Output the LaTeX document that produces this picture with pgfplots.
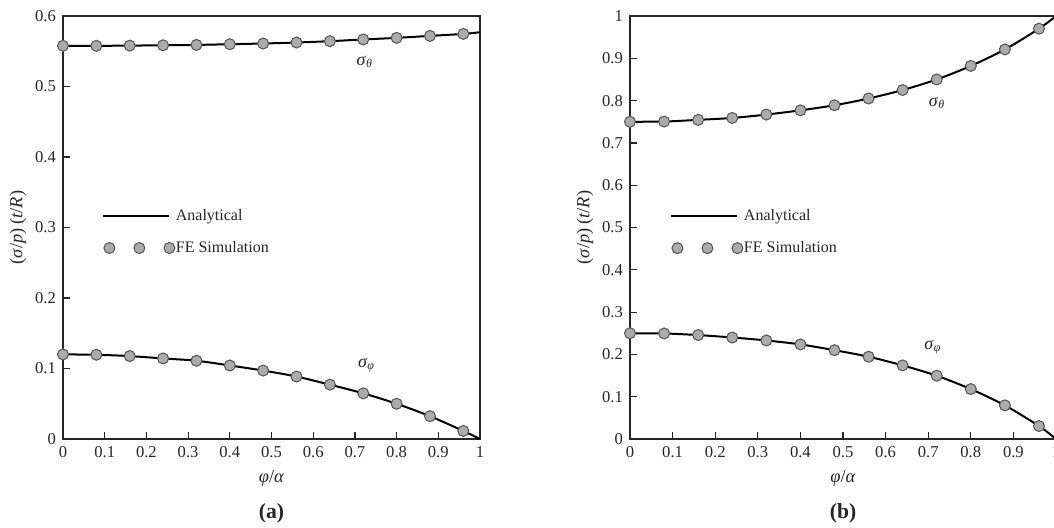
\documentclass[border=0pt]{standalone}
\usepackage{fontspec}
\setmainfont{Liberation Serif}
\usepackage{pgfplots}
\pgfplotsset{compat=1.18}
\definecolor{fegray}{gray}{0.67}
\definecolor{feedge}{gray}{0.33}
\definecolor{txt}{gray}{0.15}

\pgfplotstableread{
x     sth    sph
0     0.5577 0.1200
0.08  0.5577 0.1195
0.16  0.5580 0.1176
0.24  0.5585 0.1143
0.32  0.5590 0.1110
0.40  0.5600 0.1043
0.48  0.5610 0.0971
0.56  0.5624 0.0886
0.64  0.5643 0.0771
0.72  0.5667 0.0648
0.80  0.5690 0.0500
0.88  0.5718 0.0324
0.96  0.5746 0.0114
}\feA
\pgfplotstableread{
x     sth    sph
0     0.5577 0.1200
0.08  0.5577 0.1195
0.16  0.5580 0.1176
0.24  0.5585 0.1143
0.32  0.5590 0.1110
0.40  0.5600 0.1043
0.48  0.5610 0.0971
0.56  0.5624 0.0886
0.64  0.5643 0.0771
0.72  0.5667 0.0648
0.80  0.5690 0.0500
0.88  0.5718 0.0324
0.96  0.5746 0.0114
1.00  0.5770 0.0000
}\anA
\pgfplotstableread{
x     sth    sph
0     0.7500 0.2500
0.08  0.7505 0.2495
0.16  0.7545 0.2457
0.24  0.7590 0.2400
0.32  0.7670 0.2330
0.40  0.7770 0.2236
0.48  0.7890 0.2100
0.56  0.8050 0.1945
0.64  0.8250 0.1740
0.72  0.8500 0.1496
0.80  0.8820 0.1180
0.88  0.9210 0.0795
0.96  0.9700 0.0307
}\feB
\pgfplotstableread{
x     sth    sph
0     0.7500 0.2500
0.08  0.7505 0.2495
0.16  0.7545 0.2457
0.24  0.7590 0.2400
0.32  0.7670 0.2330
0.40  0.7770 0.2236
0.48  0.7890 0.2100
0.56  0.8050 0.1945
0.64  0.8250 0.1740
0.72  0.8500 0.1496
0.80  0.8820 0.1180
0.88  0.9210 0.0795
0.96  0.9700 0.0307
1.00  1.0000 0.0000
}\anB

\pgfplotsset{
  panel/.style={
    scale only axis,
    clip mode=individual,
    height=211.5pt,
    xmin=0, xmax=1,
    ymin=0,
    xtick={0,0.1,0.2,0.3,0.4,0.5,0.6,0.7,0.8,0.9,1},
    tick align=inside,
    xtick pos=bottom, ytick pos=left,
    major tick length=3.5pt,
    axis line style={line width=0.8pt, color=txt},
    tick style={line width=0.6pt, color=txt},
    /pgf/number format/assume math mode=true,
    tick label style={font=\fontsize{8.3}{9}\selectfont, color=txt},
    xlabel={\textit{φ}/\textit{α}},
    ylabel={(\textit{σ}/\textit{p})\,(\textit{t}/\textit{R})},
    label style={font=\fontsize{9.2}{11}\selectfont, color=txt},
    xlabel style={at={(axis description cs:0.5,0)}, anchor=center, yshift=-19.5pt},
    legend cell align=left,
    legend style={draw=none, fill=none, inner sep=0pt, anchor=west,
      font=\fontsize{8}{10}\selectfont, text=txt,
      column sep=0.5pt, row sep=8pt,
      nodes={inner sep=0pt, text height=6pt, text depth=2pt}},
  },
  anal/.style={line width=1pt, black, smooth, tension=0.5,
    legend image code/.code={\draw[line width=1pt] (0pt,0pt) -- (33pt,0pt);}},
  fe/.style={only marks, mark=*, mark size=2.75pt,
    mark options={fill=fegray, draw=feedge, line width=0.5pt},
    legend image code/.code={\draw plot[only marks, mark=*] coordinates {(3pt,0pt) (18pt,0pt) (33pt,0pt)};}},
}

\begin{document}
\begin{tikzpicture}
\useasboundingbox (0pt,0pt) rectangle (527pt,263.5pt);
% ---------- (a) ----------
\begin{axis}[panel,
  at={(31.5pt,44pt)}, anchor=south west,
  width=208.5pt,
  ymax=0.6,
  ytick={0,0.1,0.2,0.3,0.4,0.5,0.6},
  ylabel style={at={(axis description cs:-0.108,0.5)}, anchor=center},
  legend style={at={(axis cs:0.0935,0.2936)}},
]
\addplot[anal] table[x=x,y=sth] {\anA};
\addlegendentry{Analytical}
\addplot[anal, forget plot] table[x=x,y=sph] {\anA};
\addplot[fe] table[x=x,y=sth] {\feA};
\addlegendentry{FE Simulation}
\addplot[fe, forget plot] table[x=x,y=sph] {\feA};
\node[font=\fontsize{9}{10}\selectfont, text=txt] at (axis cs:0.724,0.5348) {\textit{σ}\textsubscript{\textit{θ}}};
\node[font=\fontsize{9}{10}\selectfont, text=txt] at (axis cs:0.728,0.105) {\textit{σ}\textsubscript{\textit{φ}}};
\node[font=\bfseries\fontsize{10.8}{12}\selectfont, text=txt] at (axis description cs:0.5,0) [yshift=-37pt] {(a)};
\end{axis}
% ---------- (b) ----------
\begin{axis}[panel,
  at={(315pt,44pt)}, anchor=south west,
  width=213pt,
  ymax=1,
  ytick={0,0.1,0.2,0.3,0.4,0.5,0.6,0.7,0.8,0.9,1},
  ylabel style={at={(axis description cs:-0.1056,0.5)}, anchor=center},
  legend style={at={(axis cs:0.094,0.489)}},
]
\addplot[anal] table[x=x,y=sth] {\anB};
\addlegendentry{Analytical}
\addplot[anal, forget plot] table[x=x,y=sph] {\anB};
\addplot[fe] table[x=x,y=sth] {\feB};
\addlegendentry{FE Simulation}
\addplot[fe, forget plot] table[x=x,y=sph] {\feB};
\node[font=\fontsize{9}{10}\selectfont, text=txt] at (axis cs:0.7207,0.794) {\textit{σ}\textsubscript{\textit{θ}}};
\node[font=\fontsize{9}{10}\selectfont, text=txt] at (axis cs:0.7113,0.2175) {\textit{σ}\textsubscript{\textit{φ}}};
\node[font=\bfseries\fontsize{10.8}{12}\selectfont, text=txt] at (axis description cs:0.5,0) [yshift=-37pt] {(b)};
\end{axis}
\end{tikzpicture}
\end{document}
